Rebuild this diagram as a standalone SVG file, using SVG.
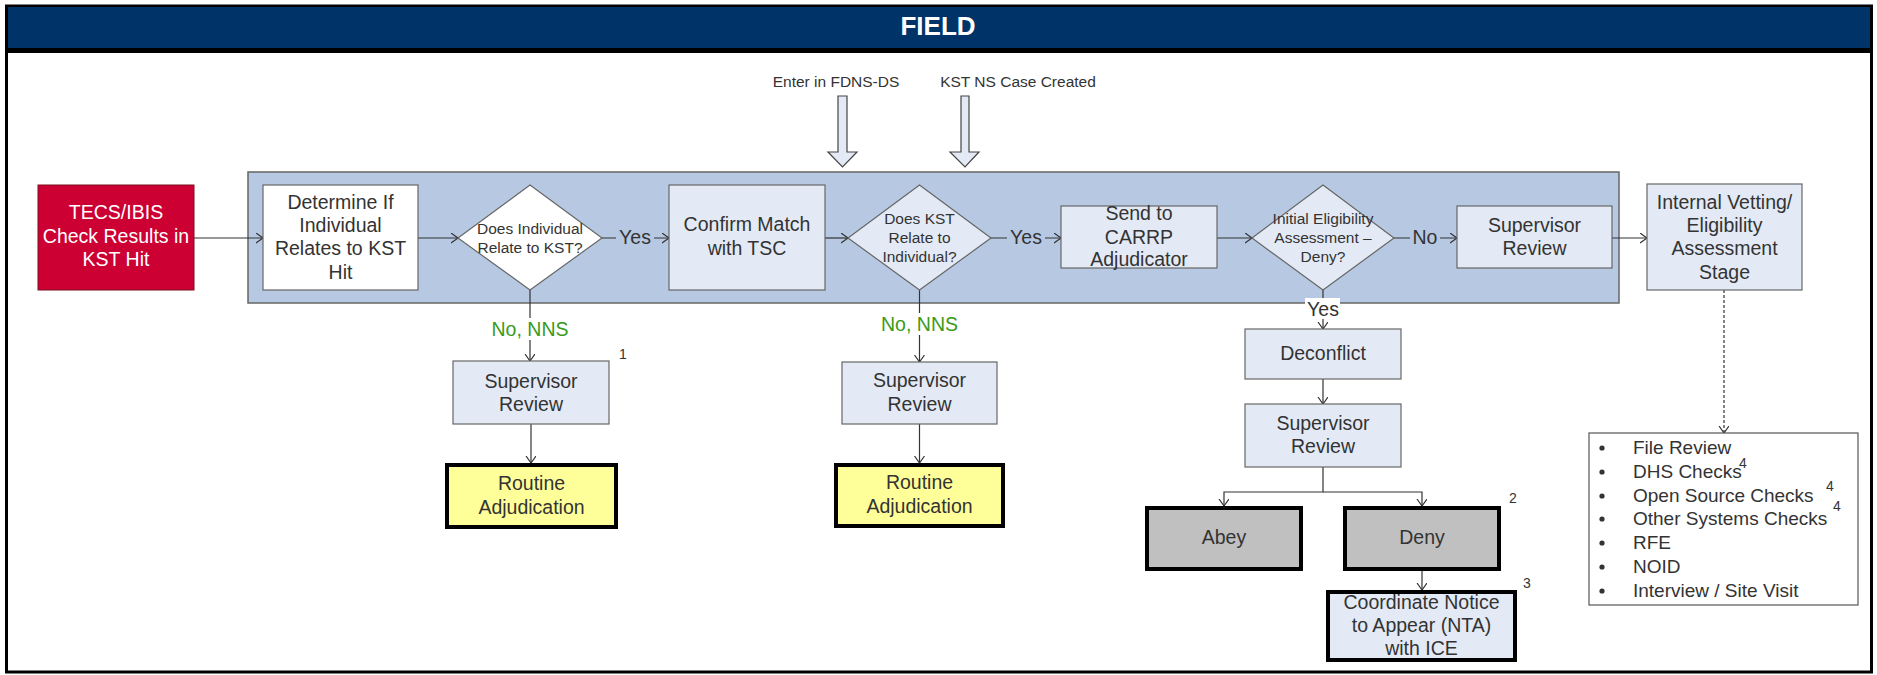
<svg xmlns="http://www.w3.org/2000/svg" width="1877" height="675" viewBox="0 0 1877 675">
<defs>
<marker id="arr" markerUnits="userSpaceOnUse" markerWidth="10" markerHeight="12" refX="7" refY="5" orient="auto">
<path d="M0,0 L7,5 L0,10" fill="none" stroke="#333" stroke-width="1.2"/>
</marker>
<style>
text{font-family:"Liberation Sans",Arial,sans-serif;fill:#333;text-anchor:middle}
.t{font-size:19.5px}
.s{font-size:15.5px}
.fn{font-size:14px;text-anchor:start}
.g{fill:#3a9a1a}
.w{fill:#fff}
.lb{fill:#e3eaf5;stroke:#666;stroke-width:1.2}
.wb{fill:#fff;stroke:#666;stroke-width:1.2}
.tk{stroke:#000;stroke-width:4}
.ln{fill:none;stroke:#333;stroke-width:1.2}
.li{font-size:19px;text-anchor:start}
</style>
</defs>
<rect x="0" y="0" width="1877" height="675" fill="#fff"/>
<rect x="6.5" y="6" width="1865" height="666" fill="#fff" stroke="#000" stroke-width="3"/>
<rect x="8" y="7" width="1862" height="42" fill="#003468"/>
<line x1="6" y1="50.5" x2="1871" y2="50.5" stroke="#000" stroke-width="5"/>
<text x="938" y="35" style="font-size:26px;font-weight:bold;fill:#fff">FIELD</text>

<g id="band"><rect x="248" y="172" width="1371" height="131" fill="#b7c9e2" stroke="#666" stroke-width="1.5"/></g>

<g id="top-labels">
<text class="s" x="836" y="87">Enter in FDNS-DS</text>
<text class="s" x="1018" y="87">KST NS Case Created</text>
<polygon points="838,96 847,96 847,152 857,152 842.5,167 828,152 838,152" fill="#e3eaf5" stroke="#444" stroke-width="1.2"/>
<polygon points="961,96 969,96 969,152 979,152 965,167 950,152 961,152" fill="#e3eaf5" stroke="#444" stroke-width="1.2"/>
</g>

<g id="connectors">
<path class="ln" d="M194,238 H263" marker-end="url(#arr)"/>
<path class="ln" d="M418,238 H458" marker-end="url(#arr)"/>
<path class="ln" d="M602,238 H669" marker-end="url(#arr)"/>
<path class="ln" d="M825,238 H848" marker-end="url(#arr)"/>
<path class="ln" d="M991,238 H1061" marker-end="url(#arr)"/>
<path class="ln" d="M1217,238 H1252" marker-end="url(#arr)"/>
<path class="ln" d="M1394,238 H1457" marker-end="url(#arr)"/>
<path class="ln" d="M1612,238 H1647" marker-end="url(#arr)"/>
<path class="ln" d="M530,290 V361" marker-end="url(#arr)"/>
<path class="ln" d="M531,424 V463" marker-end="url(#arr)"/>
<path class="ln" d="M919.5,290 V362" marker-end="url(#arr)"/>
<path class="ln" d="M919.5,424 V463" marker-end="url(#arr)"/>
<path class="ln" d="M1323,290 V329" marker-end="url(#arr)"/>
<path class="ln" d="M1323,379 V404" marker-end="url(#arr)"/>
<path class="ln" d="M1323,467 V492 H1224 V506" marker-end="url(#arr)"/>
<path class="ln" d="M1323,492 H1422 V506" marker-end="url(#arr)"/>
<path class="ln" d="M1422,571 V590" marker-end="url(#arr)"/>
<path class="ln" d="M1724,290 V433" stroke-dasharray="3,2" marker-end="url(#arr)"/>
<rect x="616" y="226" width="38" height="22" fill="#b7c9e2"/>
<text class="t" x="635" y="244">Yes</text>
<rect x="1007" y="226" width="38" height="22" fill="#b7c9e2"/>
<text class="t" x="1026" y="244">Yes</text>
<rect x="1410" y="226" width="30" height="22" fill="#b7c9e2"/>
<text class="t" x="1425" y="244">No</text>
<rect x="491" y="318" width="79" height="22" fill="#fff"/>
<text class="t g" x="530" y="336">No, NNS</text>
<rect x="880" y="313" width="79" height="22" fill="#fff"/>
<text class="t g" x="919.5" y="331">No, NNS</text>
<rect x="1305" y="298" width="35" height="21" fill="#fff"/>
<text class="t" x="1323" y="316">Yes</text>
</g>

<g id="tecs">
<rect x="38" y="185" width="156" height="105" fill="#cc0033" stroke="#7a1020" stroke-width="1"/>
<text class="t w" x="116" y="219">TECS/IBIS</text>
<text class="t w" x="116" y="243">Check Results in</text>
<text class="t w" x="116" y="266">KST Hit</text>
</g>

<g id="determine">
<rect class="wb" x="263" y="185" width="155" height="105"/>
<text class="t" x="340.5" y="209">Determine If</text>
<text class="t" x="340.5" y="232">Individual</text>
<text class="t" x="340.5" y="255">Relates to KST</text>
<text class="t" x="340.5" y="279">Hit</text>
</g>

<g id="decision1">
<polygon class="wb" points="530,185 602,238 530,290 458,238"/>
<text class="s" x="530" y="233.5">Does Individual</text>
<text class="s" x="530" y="252.5">Relate to KST?</text>
</g>

<g id="confirm">
<rect class="lb" x="669" y="185" width="156" height="105"/>
<text class="t" x="747" y="231">Confirm Match</text>
<text class="t" x="747" y="255">with TSC</text>
</g>

<g id="decision2">
<polygon class="lb" points="919.5,185 991,238 919.5,290 848,238"/>
<text class="s" x="919.5" y="223.5">Does KST</text>
<text class="s" x="919.5" y="242.5">Relate to</text>
<text class="s" x="919.5" y="261.5">Individual?</text>
</g>

<g id="send">
<rect class="lb" x="1061" y="206" width="156" height="62"/>
<text class="t" x="1139" y="220">Send to</text>
<text class="t" x="1139" y="244">CARRP</text>
<text class="t" x="1139" y="266">Adjudicator</text>
</g>

<g id="decision3">
<polygon class="lb" points="1323,185 1394,238 1323,290 1252,238"/>
<text class="s" x="1323" y="223.5">Initial Eligibility</text>
<text class="s" x="1323" y="242.5">Assessment –</text>
<text class="s" x="1323" y="261.5">Deny?</text>
</g>

<g id="supervisor-top">
<rect class="lb" x="1457" y="206" width="155" height="62"/>
<text class="t" x="1534.5" y="232">Supervisor</text>
<text class="t" x="1534.5" y="255">Review</text>
</g>

<g id="internal-vetting">
<rect class="lb" x="1647" y="184" width="155" height="106"/>
<text class="t" x="1724.5" y="209">Internal Vetting/</text>
<text class="t" x="1724.5" y="232">Eligibility</text>
<text class="t" x="1724.5" y="255">Assessment</text>
<text class="t" x="1724.5" y="279">Stage</text>
</g>

<g id="supervisor1">
<rect class="lb" x="453" y="361" width="156" height="63"/>
<text class="t" x="531" y="388">Supervisor</text>
<text class="t" x="531" y="411">Review</text>
<text class="fn" x="619" y="359">1</text>
</g>

<g id="routine1">
<rect class="tk" x="447" y="465" width="169" height="62" fill="#ffff99"/>
<text class="t" x="531.5" y="490">Routine</text>
<text class="t" x="531.5" y="514">Adjudication</text>
</g>

<g id="supervisor2">
<rect class="lb" x="842" y="362" width="155" height="62"/>
<text class="t" x="919.5" y="387">Supervisor</text>
<text class="t" x="919.5" y="411">Review</text>
</g>

<g id="routine2">
<rect class="tk" x="836" y="465" width="167" height="61" fill="#ffff99"/>
<text class="t" x="919.5" y="489">Routine</text>
<text class="t" x="919.5" y="513">Adjudication</text>
</g>

<g id="deconflict">
<rect class="lb" x="1245" y="329" width="156" height="50"/>
<text class="t" x="1323" y="360">Deconflict</text>
</g>

<g id="supervisor3">
<rect class="lb" x="1245" y="404" width="156" height="63"/>
<text class="t" x="1323" y="430">Supervisor</text>
<text class="t" x="1323" y="453">Review</text>
</g>

<g id="abey">
<rect class="tk" x="1147" y="508" width="154" height="61" fill="#c0c0c0"/>
<text class="t" x="1224" y="544">Abey</text>
</g>

<g id="deny">
<rect class="tk" x="1345" y="508" width="154" height="61" fill="#c0c0c0"/>
<text class="t" x="1422" y="544">Deny</text>
<text class="fn" x="1509" y="503">2</text>
</g>

<g id="nta">
<rect class="tk" x="1328" y="592" width="187" height="68" fill="#e3eaf5"/>
<text class="t" x="1421.5" y="609">Coordinate Notice</text>
<text class="t" x="1421.5" y="632">to Appear (NTA)</text>
<text class="t" x="1421.5" y="655">with ICE</text>
<text class="fn" x="1523" y="588">3</text>
</g>

<g id="checks-list">
<rect x="1589" y="433" width="269" height="172" fill="#fff" stroke="#555" stroke-width="1.2"/>
<g fill="#333">
<circle cx="1602" cy="448" r="2.6"/>
<circle cx="1602" cy="472" r="2.6"/>
<circle cx="1602" cy="496" r="2.6"/>
<circle cx="1602" cy="519" r="2.6"/>
<circle cx="1602" cy="543" r="2.6"/>
<circle cx="1602" cy="567" r="2.6"/>
<circle cx="1602" cy="591" r="2.6"/>
</g>
<text class="li" x="1633" y="454">File Review</text>
<text class="li" x="1633" y="478">DHS Checks</text>
<text class="li" x="1633" y="502">Open Source Checks</text>
<text class="li" x="1633" y="525">Other Systems Checks</text>
<text class="li" x="1633" y="549">RFE</text>
<text class="li" x="1633" y="573">NOID</text>
<text class="li" x="1633" y="597">Interview / Site Visit</text>
<text class="fn" x="1739" y="468">4</text>
<text class="fn" x="1826" y="491">4</text>
<text class="fn" x="1833" y="511">4</text>
</g>
</svg>
